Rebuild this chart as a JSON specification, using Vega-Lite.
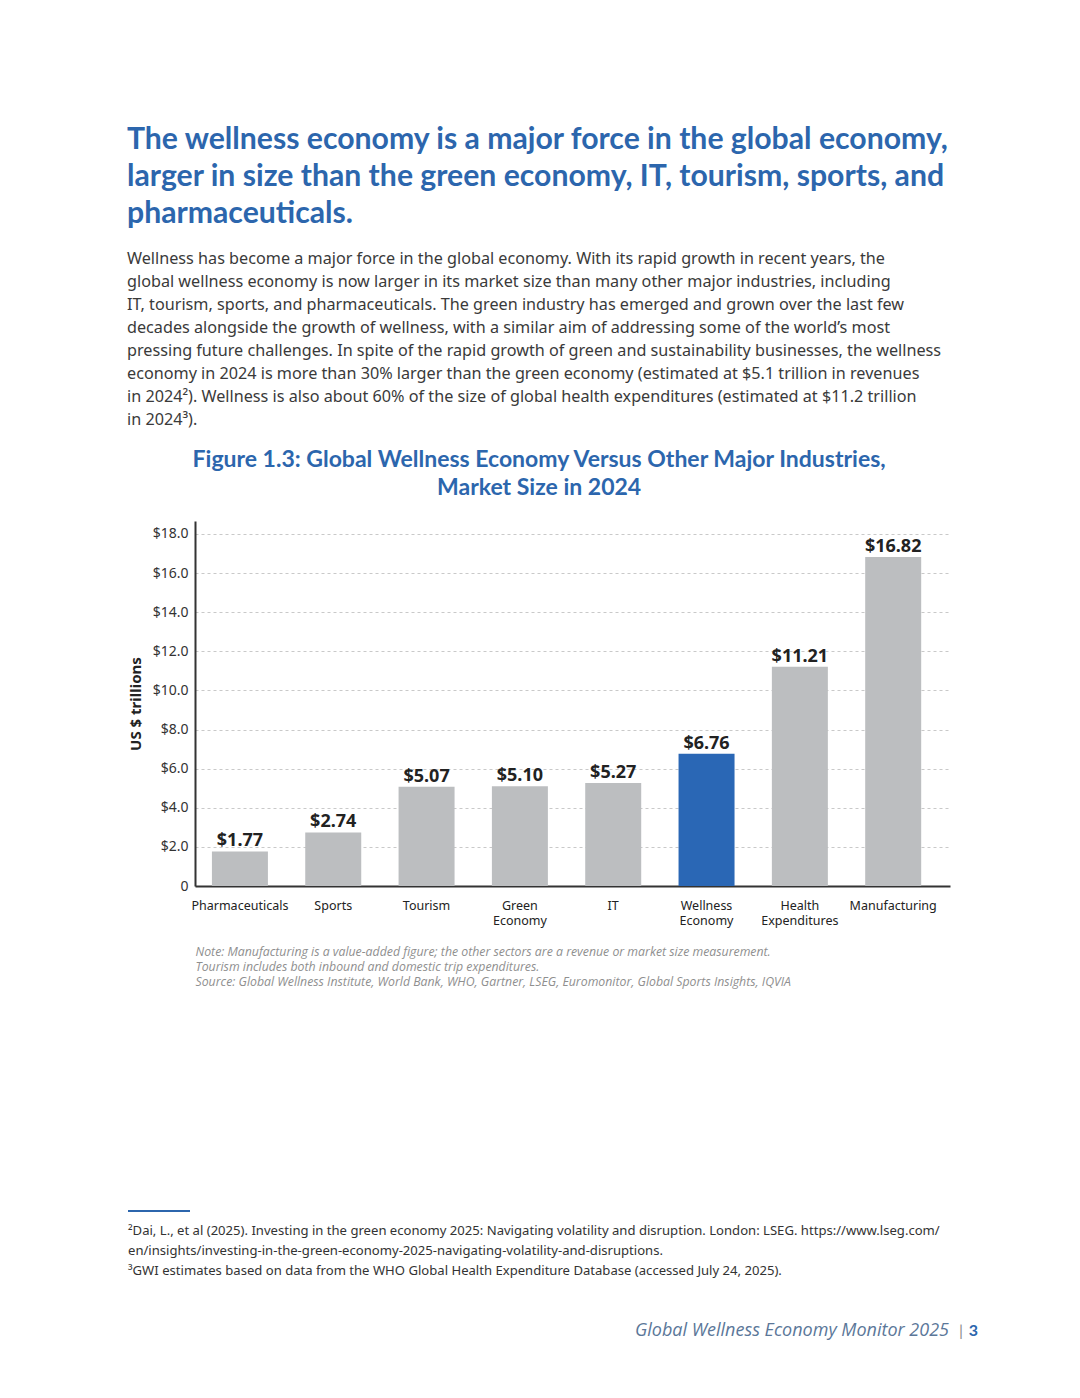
{
  "$schema": "https://vega.github.io/schema/vega-lite/v6.json",
  "background": "white",
  "padding": {"left": 127, "top": 124, "right": 0, "bottom": 0},
  "title": {
    "text": ["The wellness economy is a major force in the global economy,", "larger in size than the green economy, IT, tourism, sports, and", "pharmaceuticals."],
    "subtitle": [
      "Wellness has become a major force in the global economy. With its rapid growth in recent years, the",
      "global wellness economy is now larger in its market size than many other major industries, including",
      "IT, tourism, sports, and pharmaceuticals. The green industry has emerged and grown over the last few",
      "decades alongside the growth of wellness, with a similar aim of addressing some of the world’s most",
      "pressing future challenges. In spite of the rapid growth of green and sustainability businesses, the wellness",
      "economy in 2024 is more than 30% larger than the green economy (estimated at $5.1 trillion in revenues",
      "in 2024²). Wellness is also about 60% of the size of global health expenditures (estimated at $11.2 trillion",
      "in 2024³)."
    ],
    "anchor": "start",
    "frame": "bounds",
    "font": "Lato",
    "fontSize": 30.2,
    "fontWeight": "bold",
    "color": "#2c66ad",
    "lineHeight": 37,
    "subtitleFont": "Noto Sans",
    "subtitleFontSize": 16.2,
    "subtitleLineHeight": 23,
    "subtitleColor": "#3a3a3a",
    "subtitlePadding": 22,
    "offset": 21
  },
  "config": {"view": {"stroke": null}},
  "align": "none",
  "spacing": 222,
  "vconcat": [
    {
      "width": 755,
      "height": 365,
      "title": {
        "text": ["Figure 1.3: Global Wellness Economy Versus Other Major Industries,", "Market Size in 2024"],
        "anchor": "middle",
        "frame": "bounds",
        "font": "Lato",
        "fontSize": 23,
        "fontWeight": "bold",
        "color": "#2c66ad",
        "lineHeight": 28,
        "offset": 21
      },
      "data": {"values": [
        {"sector": "Pharmaceuticals", "value": 1.77},
        {"sector": "Sports", "value": 2.74},
        {"sector": "Tourism", "value": 5.07},
        {"sector": "Green Economy", "value": 5.10},
        {"sector": "IT", "value": 5.27},
        {"sector": "Wellness Economy", "value": 6.76},
        {"sector": "Health Expenditures", "value": 11.21},
        {"sector": "Manufacturing", "value": 16.82}
      ]},
      "encoding": {
        "x": {
          "field": "sector", "type": "nominal", "sort": null,
          "scale": {"paddingInner": 0.4, "paddingOuter": 0.245, "align": 0.37},
          "axis": {
            "title": [
              "Note: Manufacturing is a value-added figure; the other sectors are a revenue or market size measurement.",
              "Tourism includes both inbound and domestic trip expenditures.",
              "Source: Global Wellness Institute, World Bank, WHO, Gartner, LSEG, Euromonitor, Global Sports Insights, IQVIA"
            ],
            "titleFont": "Open Sans", "titleFontStyle": "italic", "titleFontWeight": "normal",
            "titleFontSize": 12.3, "titleColor": "#8f8f8f", "titleAnchor": "start", "titleAlign": "left",
            "titleLineHeight": 15, "titlePadding": 19,
            "labelExpr": "split(datum.label, ' ')",
            "labelFont": "Noto Sans", "labelFontSize": 12.5, "labelColor": "#222222",
            "labelLineHeight": 15, "labelPadding": 13, "labelAngle": 0, "labelOverlap": false,
            "ticks": false, "domainColor": "#333333", "domainWidth": 2
          }
        },
        "y": {
          "field": "value", "type": "quantitative",
          "scale": {"domain": [0, 18.66], "nice": false},
          "axis": {
            "values": [0, 2, 4, 6, 8, 10, 12, 14, 16, 18],
            "labelExpr": "datum.value === 0 ? '0' : '$' + format(datum.value, '.1f')",
            "title": "US $ trillions",
            "titleFont": "Noto Sans", "titleFontSize": 15, "titleFontWeight": "bold", "titleColor": "#222222",
            "titlePadding": 9,
            "labelFont": "Noto Sans", "labelFontSize": 14, "labelColor": "#333333", "labelPadding": 7,
            "ticks": false, "domainColor": "#333333", "domainWidth": 2,
            "grid": true, "gridColor": "#c9c9c9", "gridDash": [3, 3], "gridWidth": 1
          }
        }
      },
      "layer": [
        {
          "mark": {"type": "bar"},
          "encoding": {
            "color": {"condition": {"test": "datum.sector === 'Wellness Economy'", "value": "#2a67b5"}, "value": "#bcbec0"}
          }
        },
        {
          "mark": {"type": "text", "baseline": "bottom", "dy": -1, "font": "Noto Sans", "fontSize": 18, "fontWeight": "bold", "color": "#222222"},
          "encoding": {"text": {"field": "value", "type": "quantitative", "format": "$.2f"}}
        }
      ]
    },
    {
      "width": 783,
      "height": 128,
      "layer": [
        {
          "data": {"values": [{"item": "footnote rule"}]},
          "mark": {"type": "rule", "color": "#2c66ad", "strokeWidth": 2},
          "encoding": {"x": {"value": -67}, "x2": {"value": -5}, "y": {"value": 0}}
        },
        {
          "data": {"values": [
            {"line": 1, "note": "²Dai, L., et al (2025). Investing in the green economy 2025: Navigating volatility and disruption. London: LSEG. https://www.lseg.com/"},
            {"line": 2, "note": "en/insights/investing-in-the-green-economy-2025-navigating-volatility-and-disruptions."},
            {"line": 3, "note": "³GWI estimates based on data from the WHO Global Health Expenditure Database (accessed July 24, 2025)."}
          ]},
          "mark": {"type": "text", "align": "left", "baseline": "middle", "font": "Noto Sans", "fontSize": 13.1, "color": "#333333"},
          "encoding": {
            "x": {"value": -67},
            "y": {"field": "line", "type": "quantitative", "scale": {"domain": [0, 6.4], "reverse": true, "nice": false}, "axis": null},
            "text": {"field": "note", "type": "nominal"}
          }
        },
        {
          "data": {"values": [{"line": 6, "label": "Global Wellness Economy Monitor 2025"}]},
          "mark": {"type": "text", "align": "right", "baseline": "middle", "dx": -29, "font": "Open Sans", "fontSize": 18, "fontStyle": "italic", "color": "#5b7799"},
          "encoding": {
            "x": {"value": "width"},
            "y": {"field": "line", "type": "quantitative"},
            "text": {"field": "label", "type": "nominal"}
          }
        },
        {
          "data": {"values": [{"line": 6, "label": "|"}]},
          "mark": {"type": "text", "align": "center", "baseline": "middle", "dx": -17, "font": "Lato", "fontSize": 16, "color": "#8a8a8a"},
          "encoding": {
            "x": {"value": "width"},
            "y": {"field": "line", "type": "quantitative"},
            "text": {"field": "label", "type": "nominal"}
          }
        },
        {
          "data": {"values": [{"line": 6, "label": "3"}]},
          "mark": {"type": "text", "align": "right", "baseline": "middle", "font": "Lato", "fontSize": 16, "fontWeight": "bold", "color": "#2c66ad"},
          "encoding": {
            "x": {"value": "width"},
            "y": {"field": "line", "type": "quantitative"},
            "text": {"field": "label", "type": "nominal"}
          }
        }
      ]
    }
  ]
}
